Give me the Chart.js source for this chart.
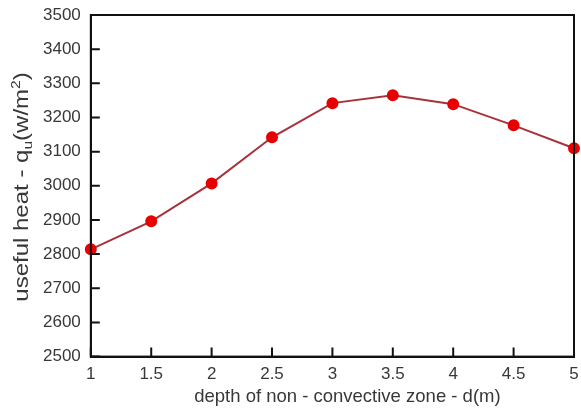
<!DOCTYPE html>
<html>
<head>
<meta charset="utf-8">
<script src="https://cdn.jsdelivr.net/npm/chart.js@4"></script>
<style>
  html,body{margin:0;padding:0;background:#fff;}
  #wrap{width:581px;height:414px;}
</style>
</head>
<body>
<div id="wrap"><canvas id="grafico" width="581" height="414"></canvas></div>
<script>
// Dados
const profundidade = [1, 1.5, 2, 2.5, 3, 3.5, 4, 4.5, 5];
const calorUtil = [2814, 2896, 3007, 3142, 3242, 3265, 3239, 3177, 3110];
const xTicks = [1, 1.5, 2, 2.5, 3, 3.5, 4, 4.5, 5];
const yTicks = [2500, 2600, 2700, 2800, 2900, 3000, 3100, 3200, 3300, 3400, 3500];
const tituloX = "depth of non - convective zone - d(m)";
// titulo Y em partes: [texto, tipo]
const tituloY = [["useful heat - q", "n"], ["u", "sub"], ["(w/m", "n"], ["2", "sup"], [")", "n"]];

const fonte = "'Liberation Sans', Arial, sans-serif";
const corTexto = "#383838";

// moldura + ticks para dentro + titulos dos eixos
const moldura = {
  id: "moldura",
  afterDraw(chart){
    const {ctx, chartArea:a, scales} = chart;
    ctx.save();
    ctx.strokeStyle = "#111"; ctx.lineWidth = 2;
    ctx.strokeRect(a.left, a.top, a.right - a.left, a.bottom - a.top);
    ctx.beginPath();
    xTicks.forEach(v => { const px = scales.x.getPixelForValue(v); ctx.moveTo(px, a.bottom); ctx.lineTo(px, a.bottom - 9); });
    yTicks.forEach(v => { const py = scales.y.getPixelForValue(v); ctx.moveTo(a.left, py); ctx.lineTo(a.left + 9, py); });
    ctx.stroke();

    ctx.fillStyle = corTexto;
    ctx.textBaseline = "middle";
    ctx.textAlign = "center";
    ctx.font = "18.5px " + fonte;
    ctx.fillText(tituloX, (a.left + a.right) / 2 + 15, 397);

    // titulo Y com subscrito e sobrescrito (esticado no comprimento como no original)
    const tam = 20, peq = 13;
    const larg = tituloY.reduce((s, [t, k]) => { ctx.font = (k === "n" ? tam : peq) + "px " + fonte; return s + ctx.measureText(t).width; }, 0);
    ctx.translate(21, 187);
    ctx.rotate(-Math.PI / 2);
    ctx.scale(1.2, 1);
    ctx.textAlign = "left";
    ctx.textBaseline = "alphabetic";
    let px = -larg / 2;
    tituloY.forEach(([t, k]) => {
      ctx.font = (k === "n" ? tam : peq) + "px " + fonte;
      const dy = k === "sub" ? 4 : k === "sup" ? -8 : 0;
      ctx.fillText(t, px, 7 + dy);
      px += ctx.measureText(t).width;
    });
    ctx.restore();
  }
};

new Chart(document.getElementById("grafico").getContext("2d"), {
  type: "line",
  data: {
    datasets: [{
      data: profundidade.map((x, i) => ({x, y: calorUtil[i]})),
      borderColor: "#a8323a",
      borderWidth: 2,
      pointBackgroundColor: "#e80000",
      pointBorderColor: "#e80000",
      pointRadius: 5,
      tension: 0,
      clip: false
    }]
  },
  options: {
    responsive: false,
    animation: false,
    layout: { padding: { top: 15, right: 5, left: 33, bottom: 21 } },
    plugins: { legend: { display: false }, tooltip: { enabled: false } },
    scales: {
      x: {
        type: "linear", min: 1, max: 5,
        afterBuildTicks: s => { s.ticks = xTicks.map(v => ({value: v})); },
        afterFit: s => { s.paddingLeft = 0; s.paddingRight = 0; },
        grid: { drawOnChartArea: false, drawTicks: false },
        border: { color: "#111", width: 2 },
        ticks: { padding: 8, color: corTexto, font: { family: fonte, size: 17 }, maxRotation: 0,
                 callback: v => String(v) }
      },
      y: {
        min: 2500, max: 3500,
        afterBuildTicks: s => { s.ticks = yTicks.map(v => ({value: v})); },
        afterFit: s => { s.paddingTop = 0; s.paddingBottom = 0; },
        grid: { drawOnChartArea: false, drawTicks: false },
        border: { color: "#111", width: 2 },
        ticks: { padding: 10, color: corTexto, font: { family: fonte, size: 17 },
                 callback: v => String(v) }
      }
    }
  },
  plugins: [moldura]
});
</script>
</body>
</html>
